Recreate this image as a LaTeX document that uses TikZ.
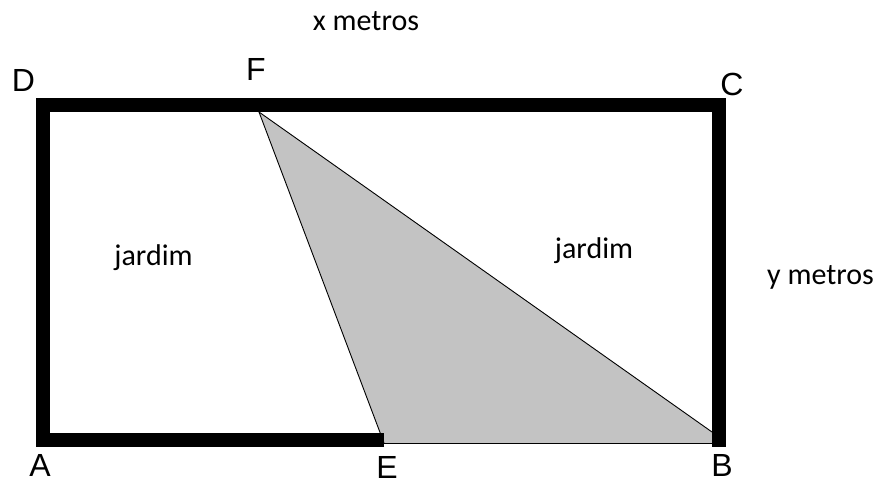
\documentclass[tikz,border=0pt]{standalone}
\usepackage{fontspec}
\setmainfont{Liberation Sans}
\newfontfamily\calib{Carlito}
\definecolor{triGray}{RGB}{195,195,195}
\begin{document}
\begin{tikzpicture}[x=1pt,y=-1pt,
  vlabel/.style={font=\fontsize{32}{32}\selectfont, inner sep=0pt},
  tlabel/.style={font=\calib\fontsize{30}{30}\selectfont, inner sep=0pt, anchor=base},
  frame/.style={line width=14pt, line cap=butt, line join=miter},
  thin/.style={line width=0.9pt}]
\useasboundingbox (0,0) rectangle (879,483);
\fill[white] (0,0) rectangle (879,483);
% corner points
\coordinate (A) at (43,440);
\coordinate (D) at (43,105);
\coordinate (C) at (719,105);
\coordinate (Bc) at (719,447);
\coordinate (Ee) at (384,440);
\coordinate (F) at (259,112);
\coordinate (E) at (384,443);
\coordinate (B) at (712,443);
\coordinate (Bt) at (712,432);
% shaded triangle
\fill[fill=triGray] (F) -- (E) -- (B) -- (Bt) -- cycle;
\draw[thin] (F) -- (E);
\draw[thin] (E) -- (B);
\draw[thin] (F) -- (Bt);
% thick frame
\draw[frame] (Ee) -- (A) -- (D) -- (C) -- (Bc);
% vertex labels
\node[vlabel] (lD) at (23.5,80) {D};
\node[vlabel] (lF) at (256,69) {F};
\node[vlabel] (lC) at (732,84) {C};
\node[vlabel] (lA) at (40,465) {A};
\node[vlabel] (lE) at (387,467) {E};
\node[vlabel] (lB) at (722,465) {B};
% texts
\node[tlabel] (xm) at (366,30) {x metros};
\node[tlabel] (j1) at (153.5,265) {jardim};
\node[tlabel] (j2) at (594,258) {jardim};
\node[tlabel] (ym) at (820.5,284) {y metros};
\end{tikzpicture}
\end{document}
